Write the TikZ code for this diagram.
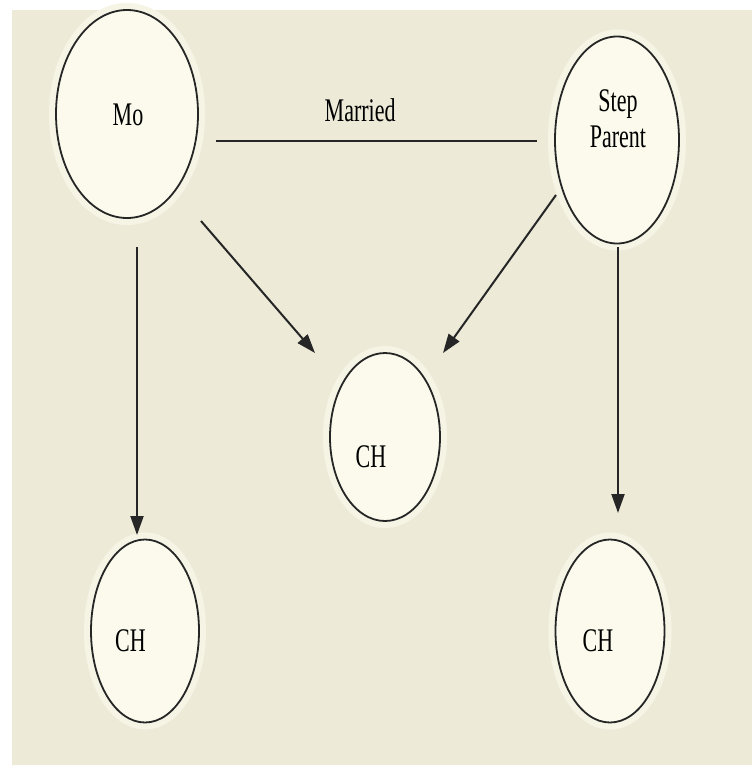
\documentclass[tikz,border=0pt]{standalone}
\usepackage{fontspec}
\setmainfont{Liberation Serif}
\usetikzlibrary{arrows.meta,calc,shapes.geometric}
\definecolor{bgc}{HTML}{EDEBD8}
\definecolor{innerc}{HTML}{FBFAEC}
\definecolor{haloc}{HTML}{F6F4E5}
\definecolor{ink}{HTML}{262626}
\newcommand{\tallt}[1]{\scalebox{1}[1.5]{#1}}
\tikzset{
  person/.style={ellipse, draw=ink, line width=1.8pt, fill=innerc, inner sep=0pt,
    preaction={draw=haloc, line width=14pt}},
  lbl/.style={font=\fontsize{22}{30}\selectfont, text=black, inner sep=0pt},
  link/.style={draw=ink, line width=2pt},
  arr/.style={link, -{Triangle[length=19pt,width=13pt]}},
}
\begin{document}
\begin{tikzpicture}[x=1pt,y=-1pt]
\fill[white] (0,0) rectangle (752,769);
\fill[bgc] (12,10) rectangle (752,765);
\useasboundingbox (0,0) rectangle (752,769);

\node[person, minimum width=142pt, minimum height=208pt,
  label={[lbl, xshift=1pt, yshift=-1pt]center:\tallt{Mo}}] (mo) at (127,114) {};
\node[person, minimum width=124pt, minimum height=207pt,
  label={[lbl, align=center, xshift=1pt, yshift=20pt]center:\tallt{\begin{tabular}{@{}c@{}}Step\\[-6pt]Parent\end{tabular}}}] (sp) at (617,140) {};
\node[person, minimum width=110pt, minimum height=168pt,
  label={[lbl, xshift=-14pt, yshift=-20pt]center:\tallt{CH}}] (chm) at (385,437) {};
\node[person, minimum width=108pt, minimum height=183pt,
  label={[lbl, xshift=-14.5pt, yshift=-10pt]center:\tallt{CH}}] (chl) at (145,631) {};
\node[person, minimum width=109pt, minimum height=183pt,
  label={[lbl, xshift=-12pt, yshift=-10pt]center:\tallt{CH}}] (chr) at (610,631) {};

\draw[link] ($(mo.center)+(89,27)$) -- node[lbl, pos=0.449, yshift=31pt] (married) {\tallt{Married}} ($(sp.center)+(-80,1)$);

\draw[arr] ($(mo.center)+(74,107)$) -- ($(chm.center)+(-70,-84)$);
\draw[arr] ($(sp.center)+(-61,55)$) -- ($(chm.center)+(58,-84)$);
\draw[arr] ($(mo.center)+(10,133)$) -- ($(chl.center)+(-8,-96)$);
\draw[arr] ($(sp.center)+(1,107)$) -- ($(chr.center)+(8,-118)$);
\end{tikzpicture}
\end{document}
